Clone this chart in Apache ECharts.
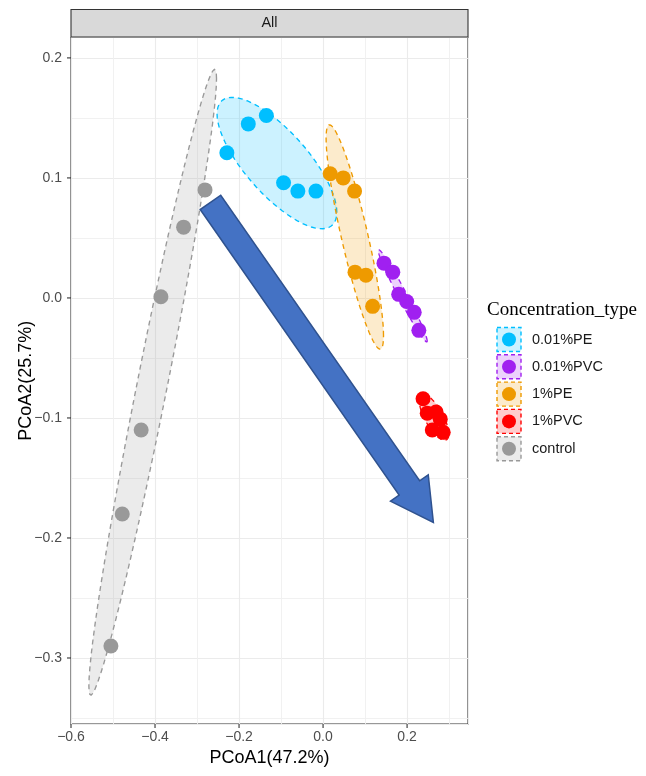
<!DOCTYPE html>
<html><head><meta charset="utf-8">
<script src="https://cdn.jsdelivr.net/npm/echarts@6/dist/echarts.min.js"></script>
<style>html,body{margin:0;padding:0;background:#fff}#c{width:646px;height:776px}</style>
</head><body><div id="c"></div>
<script>
// ---- data ----
const groupNames = ['0.01%PE', '0.01%PVC', '1%PE', '1%PVC', 'control'];
const groupColors = ['#00BFFF', '#A020F0', '#EE9A00', '#FF0000', '#999999'];
const pe001X = [-0.229, -0.178, -0.135, -0.094, -0.060, -0.017];
const pe001Y = [0.121, 0.145, 0.152, 0.096, 0.089, 0.089];
const pvc001X = [0.145, 0.166, 0.180, 0.199, 0.217, 0.228];
const pvc001Y = [0.029, 0.0215, 0.003, -0.003, -0.012, -0.027];
const pe1X = [0.017, 0.048, 0.075, 0.076, 0.102, 0.118];
const pe1Y = [0.1035, 0.100, 0.089, 0.0215, 0.019, -0.007];
const pvc1X = [0.238, 0.248, 0.269, 0.279, 0.260, 0.286];
const pvc1Y = [-0.084, -0.096, -0.095, -0.101, -0.110, -0.112];
const ctrlX = [-0.281, -0.332, -0.386, -0.433, -0.478, -0.505];
const ctrlY = [0.090, 0.059, 0.001, -0.110, -0.180, -0.290];
const xTicks = [-0.6, -0.4, -0.2, 0.0, 0.2];
const yTicks = [-0.3, -0.2, -0.1, 0.0, 0.1, 0.2];
const arrowFrom = [-0.268, 0.0796];
const arrowTo = [0.2626, -0.187];
const xTitle = 'PCoA1(47.2%)';
const yTitle = 'PCoA2(25.7%)';
const stripLabel = 'All';
const legendTitle = 'Concentration_type';
const ellipseLevel = 0.8;

const groupsX = [pe001X, pvc001X, pe1X, pvc1X, ctrlX];
const groupsY = [pe001Y, pvc001Y, pe1Y, pvc1Y, ctrlY];

// ---- robust (multivariate t) ellipse, like stat_ellipse(type = "t") ----
function covTrob(xs, ys) {
  const n = xs.length, nu = 5, p = 2;
  let lx = xs.reduce((a, b) => a + b, 0) / n, ly = ys.reduce((a, b) => a + b, 0) / n;
  let w = new Array(n).fill(1);
  let X = [];
  for (let it = 0; it < 25; it++) {
    const w0 = w.slice();
    X = xs.map((x, i) => [x - lx, ys[i] - ly]);
    const sw = w.reduce((a, b) => a + b, 0);
    let sxx = 0, syy = 0, sxy = 0;
    for (let i = 0; i < n; i++) {
      const f = w[i] / sw;
      sxx += f * X[i][0] * X[i][0]; syy += f * X[i][1] * X[i][1]; sxy += f * X[i][0] * X[i][1];
    }
    const det = sxx * syy - sxy * sxy;
    const ixx = syy / det, iyy = sxx / det, ixy = -sxy / det;
    const Q = X.map(d => d[0] * d[0] * ixx + 2 * d[0] * d[1] * ixy + d[1] * d[1] * iyy);
    w = Q.map(q => (nu + p) / (nu + q));
    const sw2 = w.reduce((a, b) => a + b, 0);
    lx = xs.reduce((a, x, i) => a + w[i] * x, 0) / sw2;
    ly = ys.reduce((a, y, i) => a + w[i] * y, 0) / sw2;
    if (w.every((v, i) => Math.abs(v - w0[i]) < 0.01)) break;
  }
  let cxx = 0, cyy = 0, cxy = 0;
  for (let i = 0; i < n; i++) {
    cxx += w[i] * X[i][0] * X[i][0]; cyy += w[i] * X[i][1] * X[i][1]; cxy += w[i] * X[i][0] * X[i][1];
  }
  return { center: [lx, ly], cxx: cxx / n, cyy: cyy / n, cxy: cxy / n };
}
function ellipseOf(xs, ys) {
  const c = covTrob(xs, ys);
  const d2 = xs.length - 1;
  const qf = (d2 / 2) * (Math.pow(1 - ellipseLevel, -2 / d2) - 1);
  const r = Math.sqrt(2 * qf);
  const a = Math.sqrt(c.cxx), b = c.cxy / a, cc = Math.sqrt(Math.max(c.cyy - b * b, 0));
  const pts = [];
  for (let k = 0; k < 72; k++) {
    const t = k / 72 * Math.PI * 2;
    pts.push([c.center[0] + r * a * Math.cos(t), c.center[1] + r * (b * Math.cos(t) + cc * Math.sin(t))]);
  }
  return { center: c.center, pts };
}
const ellipses = groupsX.map((xs, i) => ellipseOf(xs, groupsY[i]));

function hexA(hex, a) {
  const r = parseInt(hex.slice(1, 3), 16), g = parseInt(hex.slice(3, 5), 16), b = parseInt(hex.slice(5, 7), 16);
  return 'rgba(' + r + ',' + g + ',' + b + ',' + a + ')';
}
function fmt(v) { return v.toFixed(1).replace('-', '\u2212'); }
function isTick(v, arr) { return arr.some(t => Math.abs(t - v) < 1e-9); }

const FONT = 'Liberation Sans, Arial, sans-serif';
const chart = echarts.init(document.getElementById('c'));

const series = [];
series.push({
  type: 'custom', name: 'ellipses', z: 1, silent: true,
  data: ellipses.map(e => e.center),
  renderItem: function (params, api) {
    const i = params.dataIndex;
    const pts = ellipses[i].pts.map(p => api.coord(p));
    return {
      type: 'polygon', shape: { points: pts },
      style: { fill: hexA(groupColors[i], 0.2), stroke: groupColors[i], lineWidth: 1.35, lineDash: [5, 4] }
    };
  }
});
groupNames.forEach((name, i) => {
  series.push({
    type: 'scatter', name: name, z: 3, symbol: 'circle', symbolSize: 15,
    itemStyle: { color: groupColors[i], opacity: 1 },
    data: groupsX[i].map((x, j) => [x, groupsY[i][j]])
  });
});
series.push({
  type: 'custom', name: 'arrow', z: 6, silent: true,
  encode: { x: [0, 2], y: [1, 3] },
  data: [[arrowFrom[0], arrowFrom[1], arrowTo[0], arrowTo[1]]],
  renderItem: function (params, api) {
    const p0 = api.coord([api.value(0), api.value(1)]);
    const p1 = api.coord([api.value(2), api.value(3)]);
    const dx = p1[0] - p0[0], dy = p1[1] - p0[1];
    const L = Math.sqrt(dx * dx + dy * dy);
    const ux = dx / L, uy = dy / L, px = -uy, py = ux;
    const sw = 12.5, hw = 23, hl = 42;
    const bx = p0[0] + ux * (L - hl), by = p0[1] + uy * (L - hl);
    const pts = [
      [p0[0] + px * sw, p0[1] + py * sw],
      [bx + px * sw, by + py * sw],
      [bx + px * hw, by + py * hw],
      [p1[0], p1[1]],
      [bx - px * hw, by - py * hw],
      [bx - px * sw, by - py * sw],
      [p0[0] - px * sw, p0[1] - py * sw]
    ];
    return { type: 'polygon', shape: { points: pts }, style: { fill: '#4472C4', stroke: '#2F528F', lineWidth: 1.5 } };
  }
});

// legend built from groups
const legendEls = [{
  type: 'text', left: 487, top: 301,
  style: { text: legendTitle, font: '19px "Liberation Serif", "Times New Roman", serif', fill: '#000' }
}];
groupNames.forEach((name, i) => {
  const cy = 339.5 + i * 27.3;
  legendEls.push({
    type: 'rect', shape: { x: 497, y: cy - 12, width: 24, height: 24 },
    style: { fill: hexA(groupColors[i], 0.2), stroke: groupColors[i], lineWidth: 1.4, lineDash: [4, 3] }
  });
  legendEls.push({ type: 'circle', shape: { cx: 509, cy: cy, r: 7 }, style: { fill: groupColors[i] } });
  legendEls.push({
    type: 'text', x: 532, y: cy,
    style: { text: name, font: '14.5px ' + FONT, fill: '#1a1a1a', textVerticalAlign: 'middle' }
  });
});

const option = {
  animation: false,
  backgroundColor: '#fff',
  grid: { left: 71, right: 178, top: 37.5, bottom: 52, show: true, borderColor: '#333', borderWidth: 1.1, backgroundColor: 'transparent' },
  xAxis: {
    type: 'value', min: -0.6, max: 0.345, interval: 0.2,
    name: xTitle, nameLocation: 'middle', nameGap: 24,
    nameTextStyle: { fontSize: 18, color: '#000', fontFamily: FONT },
    axisLine: { show: false }, axisTick: { show: false },
    splitLine: { show: true, lineStyle: { color: '#ebebeb', width: 1.1 } },
    minorTick: { show: false, splitNumber: 2 },
    minorSplitLine: { show: true, lineStyle: { color: '#efefef', width: 0.9 } },
    axisLabel: {
      margin: 0,
      formatter: v => isTick(v, xTicks) ? '{t| }\n{v|' + fmt(v) + '}' : '',
      rich: {
        t: { width: 1.1, height: 4, lineHeight: 4, fontSize: 1, backgroundColor: '#333', color: 'transparent' },
        v: { fontSize: 14, color: '#4d4d4d', fontFamily: FONT, lineHeight: 16, padding: [2, 0, 0, 0] }
      }
    }
  },
  yAxis: {
    type: 'value', min: -0.355, max: 0.217, splitNumber: 5,
    name: yTitle, nameLocation: 'middle', nameGap: 36, nameMoveOverlap: false,
    nameTextStyle: { fontSize: 18, color: '#000', fontFamily: FONT },
    axisLine: { show: false }, axisTick: { show: false },
    splitLine: { show: true, lineStyle: { color: '#ebebeb', width: 1.1 } },
    minorTick: { show: false, splitNumber: 2 },
    minorSplitLine: { show: true, lineStyle: { color: '#efefef', width: 0.9 } },
    axisLabel: {
      margin: 0,
      formatter: v => isTick(v, yTicks) ? '{v|' + fmt(v) + '}{t| }' : '',
      rich: {
        t: { width: 4, height: 1.1, lineHeight: 1.1, fontSize: 1, backgroundColor: '#333', color: 'transparent', verticalAlign: 'middle' },
        v: { fontSize: 14, color: '#4d4d4d', fontFamily: FONT, padding: [0, 5, 0, 0] }
      }
    }
  },
  graphic: [
    { type: 'rect', shape: { x: 71, y: 9.5, width: 397, height: 27.5 }, style: { fill: '#d9d9d9', stroke: '#333', lineWidth: 1.1 }, z: 10 },
    { type: 'text', x: 269.5, y: 23.3, z: 11, style: { text: stripLabel, font: '14.5px ' + FONT, fill: '#1a1a1a', textAlign: 'center', textVerticalAlign: 'middle' } }
  ].concat(legendEls),
  series: series
};
chart.setOption(option);
</script>
</body></html>
